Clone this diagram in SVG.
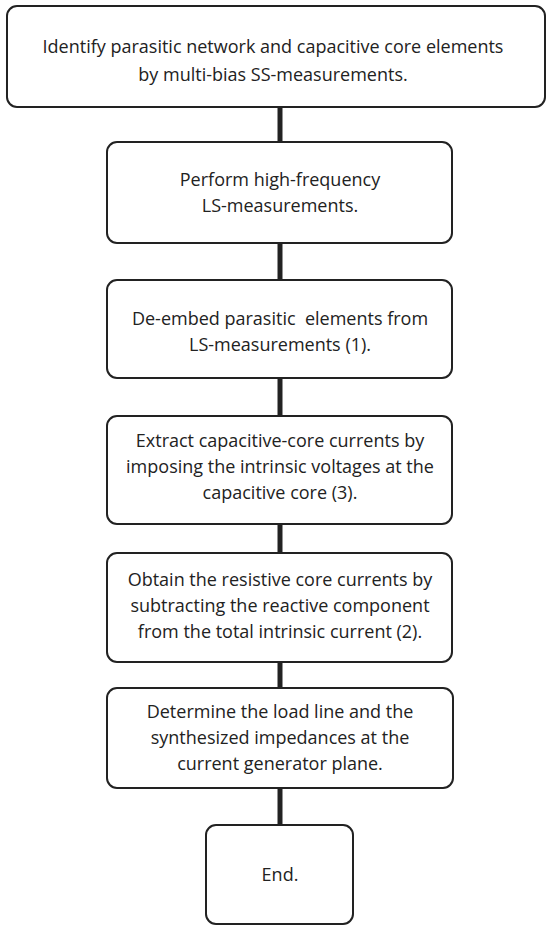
<svg xmlns="http://www.w3.org/2000/svg" width="547" height="926" viewBox="0 0 547 926">
<style>
.box{fill:#fff;stroke:#222;stroke-width:2}
.t{font-family:"Open Sans","Liberation Sans",sans-serif;font-size:18px;fill:#222;text-anchor:middle}
.c{stroke:#222;stroke-width:5;fill:none}
</style>
<rect width="547" height="926" fill="#fff"/>
<g id="connectors">
<line class="c" x1="280" y1="107" x2="280" y2="142"/>
<line class="c" x1="280" y1="243" x2="280" y2="280"/>
<line class="c" x1="280" y1="378" x2="280" y2="416"/>
<line class="c" x1="280" y1="524" x2="280" y2="553"/>
<line class="c" x1="280" y1="662" x2="280" y2="688"/>
<line class="c" x1="280" y1="788" x2="280" y2="825"/>
</g>
<g id="n1">
<rect class="box" x="7" y="6" width="538" height="101" rx="10"/>
<text class="t" x="273" y="53">Identify parasitic network and capacitive core elements</text>
<text class="t" x="273" y="81">by multi-bias SS-measurements.</text>
</g>
<g id="n2">
<rect class="box" x="107" y="142" width="345" height="101" rx="10"/>
<text class="t" x="280" y="186">Perform high-frequency</text>
<text class="t" x="280" y="212">LS-measurements.</text>
</g>
<g id="n3">
<rect class="box" x="107" y="280" width="345" height="98" rx="10"/>
<text class="t" x="280" y="325" style="white-space:pre">De-embed parasitic  elements from</text>
<text class="t" x="280" y="351">LS-measurements (1).</text>
</g>
<g id="n4">
<rect class="box" x="107" y="416" width="345" height="108" rx="10"/>
<text class="t" x="280" y="447">Extract capacitive-core currents by</text>
<text class="t" x="280" y="473">imposing the intrinsic voltages at the</text>
<text class="t" x="280" y="499">capacitive core (3).</text>
</g>
<g id="n5">
<rect class="box" x="107" y="553" width="345" height="109" rx="10"/>
<text class="t" x="280" y="586">Obtain the resistive core currents by</text>
<text class="t" x="280" y="612">subtracting the reactive component</text>
<text class="t" x="280" y="638">from the total intrinsic current (2).</text>
</g>
<g id="n6">
<rect class="box" x="107" y="688" width="346" height="100" rx="10"/>
<text class="t" x="280" y="718">Determine the load line and the</text>
<text class="t" x="280" y="744">synthesized impedances at the</text>
<text class="t" x="280" y="770">current generator plane.</text>
</g>
<g id="n7">
<rect class="box" x="206" y="825" width="147" height="99" rx="10"/>
<text class="t" x="280" y="881">End.</text>
</g>
</svg>
